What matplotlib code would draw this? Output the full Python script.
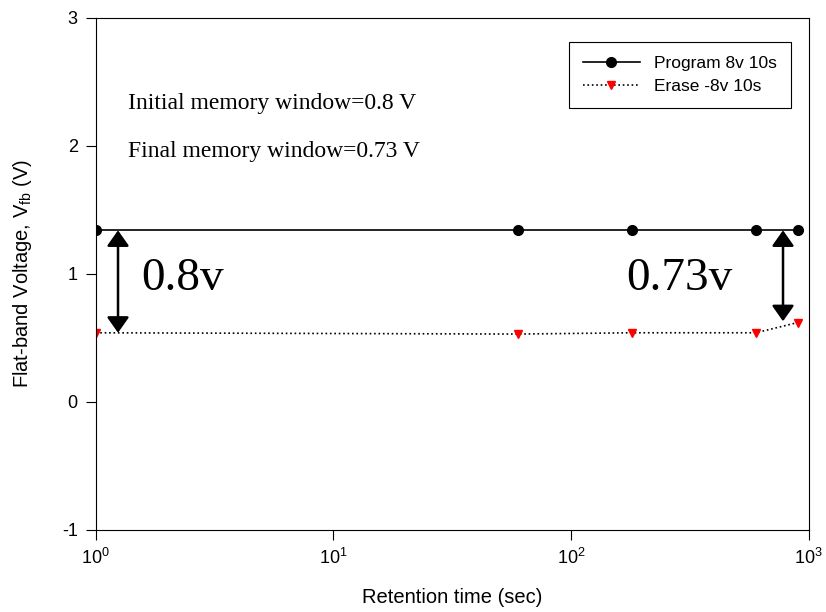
import matplotlib
matplotlib.use("Agg")
import matplotlib.pyplot as plt

plt.rcParams['font.family'] = ['Liberation Sans', 'DejaVu Sans']
plt.rcParams['mathtext.fontset'] = 'custom'
plt.rcParams['mathtext.rm'] = 'Liberation Sans'
plt.rcParams['mathtext.it'] = 'Liberation Sans'
plt.rcParams['axes.unicode_minus'] = False

# data
timeSec = [1, 60, 180, 600, 900]
programV = [1.34, 1.34, 1.34, 1.34, 1.34]
eraseV = [0.54, 0.53, 0.54, 0.54, 0.62]

fig = plt.figure(figsize=(8.26, 6.12), dpi=100)
ax = fig.add_axes([0.116, 0.134, 0.863, 0.837])

ax.plot(timeSec, programV, '-', color='black', lw=1.2, marker='o', ms=7, label='Program 8v 10s')
ax.plot(timeSec, eraseV, ':', color='black', lw=1.2, marker='v', ms=6,
        markerfacecolor='red', markeredgecolor='red', label='Erase -8v 10s')

ax.set_xscale('log')
ax.set_xlim(1, 1000)
ax.set_ylim(-1, 3)
ax.set_yticks([-1, 0, 1, 2, 3])
ax.minorticks_off()
ax.tick_params(direction='out', length=7, labelsize=13, top=False, right=False, pad=6)
ax.set_xlabel('Retention time (sec)', fontsize=14.5, labelpad=14)
ax.set_ylabel('Flat-band Voltage, V$_{\\mathrm{fb}}$ (V)', fontsize=14.5, labelpad=20)

leg = ax.legend(loc='upper right', bbox_to_anchor=(0.987, 0.97), fontsize=12.5, fancybox=False,
                edgecolor='black', framealpha=1, handlelength=3.3, borderpad=0.8,
                labelspacing=0.45, handletextpad=0.8)
leg.get_frame().set_linewidth(0.8)

# annotations
ax.text(0.045, 0.833, 'Initial memory window=0.8 V', transform=ax.transAxes,
        family='Liberation Serif', fontsize=17, va='center')
ax.text(0.045, 0.738, 'Final memory window=0.73 V', transform=ax.transAxes,
        family='Liberation Serif', fontsize=17, va='center')
ax.text(1.55, 0.96, '0.8v', family='Liberation Serif', fontsize=34, va='center')
ax.text(170, 0.96, '0.73v', family='Liberation Serif', fontsize=34, va='center')

arrowStyle = dict(arrowstyle='<|-|>,head_length=0.34,head_width=0.24', color='black', lw=1.8,
                  mutation_scale=28, shrinkA=0, shrinkB=0)
ax.annotate('', xy=(1.24, 0.54), xytext=(1.24, 1.34), arrowprops=arrowStyle)
ax.annotate('', xy=(780, 0.63), xytext=(780, 1.34), arrowprops=arrowStyle)

fig.savefig('out.png', dpi=100)
